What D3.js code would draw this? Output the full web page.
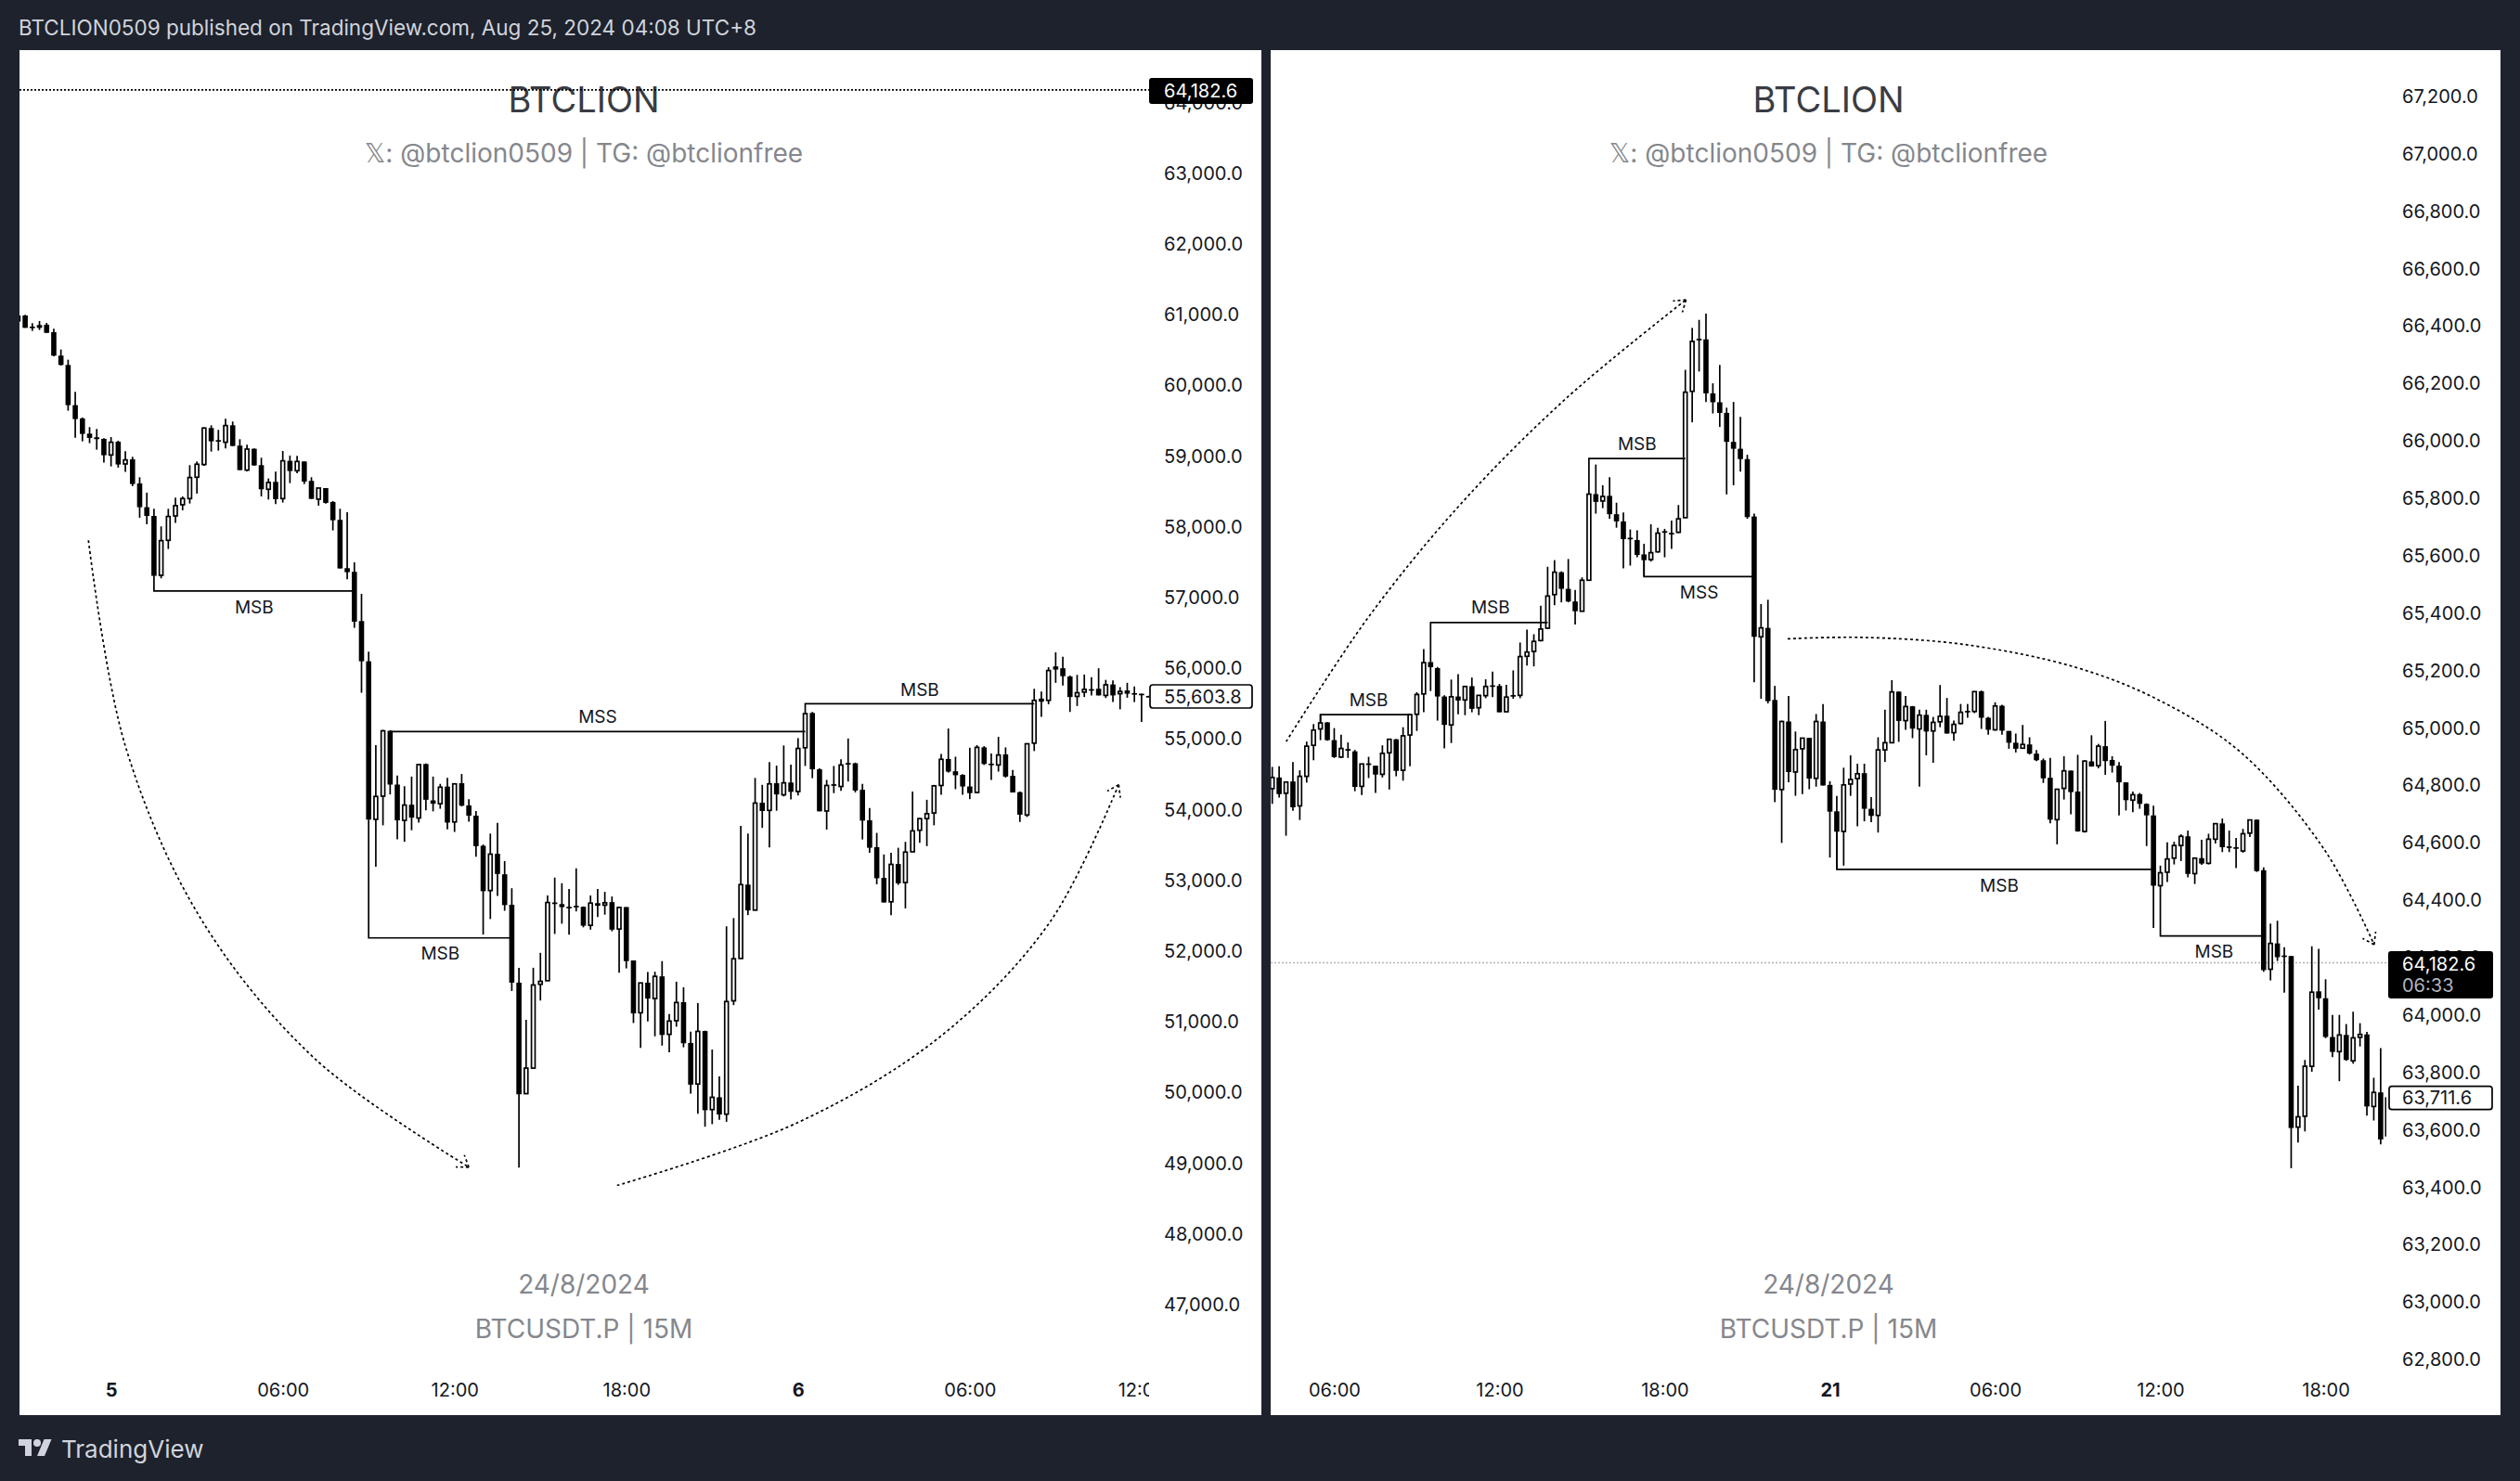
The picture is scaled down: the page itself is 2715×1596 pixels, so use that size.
<!DOCTYPE html>
<html>
<head>
<meta charset="utf-8">
<script src="https://cdn.jsdelivr.net/npm/d3@7"></script>
<style>
    html, body { margin: 0; padding: 0; background: #1e222d; }
    svg { display: block; }
    text { font-family: Inter, "DejaVu Sans", sans-serif; }
    .axis text { fill: #131722; font-size: 20px; }
    .axis .domain, .axis line { display: none; }
</style>
</head>
<body>
<div id="chart"></div>
<script>
// candles are [open, high, low, close]
var leftBars = [
    [60992,61001,60852,60905],[60992,61001,60817,60817],[60835,60883,60774,60822],[60857,60914,60787,60817],
    [60861,60887,60743,60747],[60756,60804,60415,60424],[60424,60511,60284,60292],[60292,60367,59645,59724],
    [59724,59912,59264,59527],[59536,59549,59212,59317],[59321,59413,59186,59260],[59269,59387,59094,59243],
    [59247,59256,58910,59015],[59019,59273,58857,59199],[59207,59221,58840,58884],[58892,59072,58779,58949],
    [58958,58993,58578,58608],[58617,58704,58131,58280],[58280,58486,58039,58157],[58157,58258,57309,57309],
    [57317,58009,57274,57807],[57812,58258,57689,58149],[58157,58416,58057,58302],[58315,58433,58236,58402],
    [58402,58875,58332,58700],[58704,58927,58473,58888],[58884,59409,58866,59400],[59400,59439,59067,59212],
    [59229,59374,59081,59216],[59199,59531,59111,59435],[59439,59492,59146,59146],[59151,59242,58805,58805],
    [58805,59164,58788,59102],[59107,59111,58866,58871],[58875,58980,58433,58534],[58534,58687,58389,58630],
    [58639,58783,58324,58394],[58402,59076,58346,58936],[58936,59011,58621,58792],[58796,59006,58761,58927],
    [58927,58927,58608,58643],[58652,58704,58398,58398],[58394,58551,58302,58551],[58551,58551,58332,58341],
    [58354,58367,57952,58096],[58101,58258,57414,57414],[57418,58210,57261,57361],[57366,57501,56574,56661],
    [56670,57055,55656,56101],[56101,56237,53861,53861],[53865,54915,53195,54189],[54193,55131,53781,55117],
    [55117,55126,54217,54357],[54357,54484,53584,53851],[53851,54334,53547,54067],[54072,54470,53711,53889],
    [53884,54648,53819,54639],[54648,54657,53992,54142],[54133,54470,53978,54086],[54086,54367,54015,54320],
    [54329,54451,53725,53819],[53828,54376,53687,54367],[54376,54507,54048,54058],[54062,54151,53833,53917],
    [53917,53983,53336,53486],[53491,53509,52235,52849],[52858,53664,52455,53373],[53378,53814,52783,53092],
    [53088,53275,52572,52652],[52657,52891,51438,51555],[51555,51766,48940,49976],[49985,51030,49985,50346],
    [50346,51766,50346,51522],[51532,51977,51302,51574],[51583,52788,51579,52689],[52689,53041,52244,52671],
    [52666,52961,52389,52624],[52628,52881,52235,52619],[52642,53172,52563,52633],[52628,52633,52338,52361],
    [52366,52788,52305,52680],[52680,52881,52483,52642],[52652,52839,52516,52685],[52694,52774,52282,52305],
    [52314,52624,51696,52619],[52624,52624,51757,51860],[51869,51869,50984,51120],[51129,51555,50632,51551],
    [51555,51705,51007,51330],[51330,51710,50796,51644],[51644,51860,50665,50815],[50824,51110,50571,51012],
    [51017,51569,50932,51274],[51279,51490,50641,50698],[50702,50862,49985,50112],[50121,51265,49700,50866],
    [50871,50876,49517,49751],[49760,50609,49554,49934],[49934,50229,49615,49690],[49695,52352,49587,51288],
    [51298,52469,51237,51893],[51897,53772,51897,52942],[52942,53664,52511,52577],[52581,54451,52577,54095],
    [54100,54353,53744,53983],[53992,54676,53467,54367],[54376,54625,53987,54217],[54212,54910,54189,54381],
    [54386,54639,54147,54254],[54259,55014,54203,54868],[54878,55360,54620,55360],[55370,55384,54447,54573],
    [54573,54587,53978,53978],[53983,54423,53720,54344],[54362,54620,54236,54344],[54330,54714,54269,54634],
    [54662,55009,54400,54648],[54658,54667,54245,54273],[54283,54367,53580,53847],[53852,54025,53392,53463],
    [53472,53674,52947,53032],[53036,53369,52689,52689],[52699,53392,52511,53228],[53233,53463,52938,52961],
    [52971,53547,52605,53402],[53406,54259,53406,53702],[53711,53884,53533,53875],[53875,54142,53486,53945],
    [53955,54353,53781,54339],[54344,54789,54212,54714],[54719,55150,54526,54540],[54545,54751,54292,54489],
    [54494,54503,54212,54330],[54330,54878,54151,54236],[54245,54915,54236,54883],[54883,54901,54634,54648],
    [54653,54798,54423,54643],[54634,55032,54540,54775],[54784,54883,54456,54470],[54480,54564,54245,54245],
    [54250,54259,53828,53931],[53927,54939,53898,54934],[54943,55712,54831,55548],[55548,55674,55314,55562],
    [55548,56017,55492,55970],[56002,56227,55796,56017],[56002,56166,55759,55890],[55885,55899,55384,55595],
    [55604,55909,55468,55656],[55665,55913,55595,55703],[55707,55876,55618,55698],[55712,56002,55618,55618],
    [55618,55838,55581,55768],[55773,55829,55524,55618],[55642,55735,55421,55674],[55688,55796,55585,55642],
    [55651,55745,55524,55642],[55642,55642,55243,55632],[55610,55612,55598,55604]
];

var rightBars = [
    [64789,64865,64736,64828],[64828,64867,64758,64770],[64773,64812,64625,64812],[64814,64882,64712,64724],
    [64729,64853,64680,64832],[64832,64953,64810,64937],[64940,65014,64888,64993],[64997,65048,64958,65018],
    [65020,65021,64956,64958],[64958,65000,64896,64899],[64899,64977,64896,64929],[64927,64950,64896,64921],
    [64919,64924,64780,64795],[64797,64875,64767,64875],[64877,64900,64826,64872],[64869,64869,64774,64838],
    [64839,64940,64828,64912],[64914,64961,64786,64961],[64961,64962,64832,64851],[64853,65003,64817,64973],
    [64976,65048,64867,65047],[65048,65125,64990,65117],[65119,65275,65055,65228],[65230,65230,65129,65212],
    [65209,65213,65026,65110],[65110,65114,64929,65011],[65011,65169,64948,65109],[65110,65188,65048,65096],
    [65098,65145,65045,65145],[65146,65176,65055,65067],[65071,65114,65045,65114],[65113,65170,65104,65145],
    [65149,65197,65108,65145],[65147,65154,65055,65055],[65057,65151,65055,65108],[65115,65201,65102,65112],
    [65114,65298,65104,65249],[65250,65343,65218,65265],[65267,65327,65215,65302],[65305,65426,65302,65345],
    [65348,65562,65345,65460],[65465,65585,65428,65543],[65543,65546,65438,65485],[65485,65589,65438,65441],
    [65441,65481,65361,65407],[65407,65525,65407,65515],[65515,65815,65515,65815],[65815,65918,65747,65788],
    [65791,65846,65766,65807],[65809,65874,65729,65745],[65745,65785,65698,65720],[65720,65751,65556,65658],
    [65663,65692,65566,65658],[65655,65689,65595,65603],[65605,65642,65528,65585],[65587,65710,65580,65611],
    [65614,65698,65611,65679],[65686,65694,65595,65682],[65680,65723,65624,65676],[65682,65777,65679,65729],
    [65733,66248,65733,66170],[66173,66394,66065,66347],[66356,66422,66242,66351],[66354,66444,66136,66166],
    [66166,66201,66096,66135],[66135,66265,66049,66098],[66098,66116,65814,65997],[65997,66136,65846,65973],
    [65973,66084,65893,65937],[65937,65952,65729,65735],[65737,65747,65160,65318],[65318,65432,65102,65349],
    [65349,65447,65086,65094],[65098,65147,64742,64785],[64786,65026,64600,65023],[65023,65112,64811,64847],
    [64847,64988,64764,64925],[64928,64965,64770,64965],[64966,64966,64787,64824],[64825,65049,64796,65023],
    [65023,65084,64800,64800],[64802,64815,64549,64709],[64710,64764,64511,64639],[64640,64862,64521,64802],
    [64805,64905,64764,64821],[64824,64876,64658,64841],[64843,64876,64675,64719],[64719,64760,64672,64694],
    [64696,64968,64636,64924],[64924,65064,64882,64949],[64949,65167,64949,65126],[65127,65128,64952,65025],
    [65026,65112,64994,65075],[65076,65077,64965,64998],[64997,65064,64796,65045],[65046,65064,64905,64988],
    [64990,65039,64879,65020],[65022,65150,65003,65041],[65043,65105,64981,64981],[64984,65026,64956,65013],
    [65016,65084,65013,65055],[65060,65084,65036,65058],[65058,65127,65052,65127],[65128,65131,64997,65036],
    [65036,65039,64977,64994],[64994,65090,64991,65077],[65078,65081,64977,64991],[64990,64990,64928,64949],
    [64949,64981,64915,64928],[64930,65011,64928,64943],[64943,64968,64908,64911],[64911,64924,64885,64888],
    [64888,64894,64809,64825],[64827,64896,64668,64681],[64681,64787,64595,64787],[64790,64902,64751,64851],
    [64852,64852,64700,64777],[64779,64907,64639,64640],[64640,64888,64636,64885],[64884,64975,64866,64866],
    [64869,64945,64860,64937],[64937,65025,64837,64885],[64889,64902,64845,64869],[64869,64882,64696,64811],
    [64811,64811,64713,64749],[64749,64779,64707,64768],[64770,64774,64719,64736],[64736,64738,64589,64696],
    [64696,64730,64304,64451],[64451,64521,64451,64496],[64498,64602,64464,64544],[64547,64604,64525,64591],
    [64591,64630,64537,64623],[64623,64643,64480,64492],[64493,64547,64457,64547],[64547,64611,64524,64528],
    [64529,64632,64525,64613],[64613,64667,64598,64667],[64668,64685,64568,64585],[64588,64643,64568,64585],
    [64585,64617,64512,64581],[64572,64649,64566,64632],[64634,64680,64621,64680],[64681,64681,64499,64502],
    [64505,64515,64151,64157],[64160,64319,64121,64250],[64250,64329,64189,64202],[64208,64237,64078,64204],
    [64206,64206,63467,63607],[63610,63754,63556,63646],[63648,63844,63595,63822],[63822,64240,63803,64080],
    [64083,64231,64019,64059],[64059,64125,63920,63924],[63924,64001,63854,63872],[63873,64001,63770,63931],
    [63931,63969,63841,63844],[63841,64012,63831,63921],[63923,63972,63891,63933],[63933,63942,63650,63682],
    [63682,63782,63633,63731],[63731,63885,63550,63567],[63580,63712,63562,63711.6]
];

var leftPriceTicks = [64000,63000,62000,61000,60000,59000,58000,57000,56000,55000,54000,53000,52000,51000,50000,49000,48000,47000];
var rightPriceTicks = [67200,67000,66800,66600,66400,66200,66000,65800,65600,65400,65200,65000,64800,64600,64400,64200,64000,63800,63600,63400,63200,63000,62800];

var leftTimeBars = [13, 37, 61, 85, 109, 133, 157];
var leftTimeLabels = ['5', '06:00', '12:00', '18:00', '6', '06:00', '12:00'];
var rightTimeBars = [9, 33, 57, 81, 105, 129, 153];
var rightTimeLabels = ['06:00', '12:00', '18:00', '21', '06:00', '12:00', '18:00'];
var boldTimeLabels = ['5', '6', '21'];

// structure lines: [start bar, start price, corner price, end bar, label, label bar, label price]
var leftBreaks = [
    [19, 57309, 57096, 47, 'MSB', 33, 56867],
    [49, 53861, 52188, 69, 'MSB', 59, 51968],
    [52, 55107, 55107, 110, 'MSS', 81, 55313],
    [110, 55360, 55501, 142, 'MSB', 126, 55698]
];
var rightBreaks = [
    [7, 65018, 65047, 20, 'MSB', 14, 65098],
    [23, 65230, 65368, 40, 'MSB', 31.7, 65422],
    [46, 65815, 65939, 60, 'MSB', 53, 65991],
    [54, 65585, 65528, 70, 'MSS', 62, 65475],
    [82, 64639, 64508, 128, 'MSB', 105.6, 64451],
    [129, 64451, 64276, 144, 'MSB', 136.8, 64221]
];

// curved arrows: [bar, price] anchors
var leftArrows = [
    [[9.84,57812],[14.98,54909],[25.54,52461],[41.54,50474],[63,48945]],
    [[83.7,48686],[109,49578],[129.1,50811],[144.2,52412],[153.8,54354]]
];
var rightArrows = [
    [[2.02,64953],[13.93,65385],[27.54,65785],[42.9,66153],[60.1,66492]],
    [[74.87,65311],[85.53,65316],[100.6,65291],[116.8,65211],[128.9,65096],[140.9,64911],[152.95,64572],[160.05,64246]]
];

var otherSymbolPrice = 64182.6;
var leftLastPrice = 55603.8;
var rightLastPrice = 63711.6;
var countdown = '06:33';

var titleText = 'BTCLION';
var subtitleText = '\u{1D54F}: @btclion0509 | TG: @btclionfree';
var dateText = '24/8/2024';
var symbolText = 'BTCUSDT.P | 15M';
var headerText = 'BTCLION0509 published on TradingView.com, Aug 25, 2024 04:08 UTC+8';

var svgWidth = 2715;
var svgHeight = 1596;
var priceFormat = d3.format(',.1f');

var svg = d3.select('#chart')
    .append('svg')
    .attr('width', svgWidth)
    .attr('height', svgHeight);

svg.append('rect')
    .attr('width', svgWidth)
    .attr('height', svgHeight)
    .attr('fill', '#1e222d');

svg.append('text')
    .attr('x', 20)
    .attr('y', 38)
    .attr('fill', '#d1d4dc')
    .attr('font-size', 22.5)
    .text(headerText);

// footer logo and wordmark
var logo = svg.append('g')
    .attr('transform', 'translate(20, 1547)')
    .attr('fill', '#d1d4dc');
logo.append('path').attr('d', 'M14 22H7V11H0V4h14v18zM28 22h-8l7.5-18h8L28 22z');
logo.append('circle').attr('cx', 20).attr('cy', 8).attr('r', 4);

svg.append('text')
    .attr('x', 66)
    .attr('y', 1571)
    .attr('fill', '#d1d4dc')
    .attr('font-size', 26)
    .text('TradingView');

function drawPane(p) {
    var pane = svg.append('g');

    pane.append('rect')
        .attr('x', p.left)
        .attr('y', 54)
        .attr('width', p.right - p.left)
        .attr('height', 1471)
        .attr('fill', '#fff');

    var clipId = 'clip' + p.left;
    svg.append('clipPath')
        .attr('id', clipId)
        .append('rect')
        .attr('x', p.left)
        .attr('y', 54)
        .attr('width', p.plotRight - p.left)
        .attr('height', 1471);

    var xScale = d3.scaleLinear()
        .domain(p.xDomain)
        .range(p.xRange);

    var yScale = d3.scaleLinear()
        .domain(p.yDomain)
        .range(p.yRange);

    // watermark
    var watermark = pane.append('g')
        .attr('text-anchor', 'middle')
        .attr('fill', '#85878d');
    watermark.append('text')
        .attr('x', p.center).attr('y', 121)
        .attr('fill', '#3a3c43')
        .attr('font-size', 38)
        .text(titleText);
    watermark.append('text')
        .attr('x', p.center).attr('y', 175)
        .attr('font-size', 28)
        .text(subtitleText);
    watermark.append('text')
        .attr('x', p.center).attr('y', 1394)
        .attr('font-size', 28)
        .text(dateText);
    watermark.append('text')
        .attr('x', p.center).attr('y', 1442)
        .attr('font-size', 28)
        .text(symbolText);

    var plot = pane.append('g')
        .attr('clip-path', `url(#${clipId})`);

    // dotted line of the other chart's price
    plot.append('line')
        .attr('x1', p.left)
        .attr('x2', p.plotRight)
        .attr('y1', yScale(otherSymbolPrice))
        .attr('y2', yScale(otherSymbolPrice))
        .attr('stroke', p.lineColor)
        .attr('stroke-width', 1.7)
        .attr('stroke-dasharray', '2 2');

    // candles
    var candle = plot.selectAll('g.candle')
        .data(p.bars)
        .enter()
        .append('g')
        .attr('class', 'candle');

    candle.append('line')
        .attr('x1', (d, i) => xScale(i))
        .attr('x2', (d, i) => xScale(i))
        .attr('y1', d => yScale(d[1]))
        .attr('y2', d => yScale(d[2]))
        .attr('stroke', '#000')
        .attr('stroke-width', 1.7);

    var bodyWidth = 5.6;
    var borderWidth = 1.7;
    candle.append('rect')
        .attr('x', (d, i) => xScale(i) - bodyWidth / 2 + (d[3] >= d[0] ? borderWidth / 2 : 0))
        .attr('y', d => yScale(Math.max(d[0], d[3])))
        .attr('width', d => d[3] >= d[0] ? bodyWidth - borderWidth : bodyWidth)
        .attr('height', d => Math.max(Math.abs(yScale(d[0]) - yScale(d[3])), 1.7))
        .attr('fill', d => d[3] >= d[0] ? '#fff' : '#000')
        .attr('stroke', d => d[3] >= d[0] ? '#000' : 'none')
        .attr('stroke-width', borderWidth);

    // MSB / MSS brackets
    var bracket = plot.selectAll('g.bracket')
        .data(p.breaks)
        .enter()
        .append('g')
        .attr('class', 'bracket');

    bracket.append('path')
        .attr('d', d => {
            var path = d3.path();
            path.moveTo(xScale(d[0]), yScale(d[1]));
            path.lineTo(xScale(d[0]), yScale(d[2]));
            path.lineTo(xScale(d[3]), yScale(d[2]));
            return path.toString();
        })
        .attr('fill', 'none')
        .attr('stroke', '#000')
        .attr('stroke-width', 1.7);

    bracket.append('text')
        .attr('x', d => xScale(d[5]))
        .attr('y', d => yScale(d[6]))
        .attr('dy', '0.36em')
        .attr('text-anchor', 'middle')
        .attr('font-size', 19)
        .attr('fill', '#131722')
        .text(d => d[4]);

    // curved dotted arrows
    var curve = d3.line()
        .x(d => xScale(d[0]))
        .y(d => yScale(d[1]))
        .curve(d3.curveCatmullRom.alpha(0.5));

    var arrow = plot.selectAll('g.arrow')
        .data(p.arrows)
        .enter()
        .append('g')
        .attr('class', 'arrow')
        .attr('fill', 'none')
        .attr('stroke', '#000')
        .attr('stroke-width', 1.7)
        .attr('stroke-dasharray', '3 3');

    arrow.append('path').attr('d', curve);

    arrow.append('path')
        .attr('d', d => {
            var tip = d[d.length - 1];
            var prev = d[d.length - 2];
            var tipX = xScale(tip[0]);
            var tipY = yScale(tip[1]);
            var angle = Math.atan2(tipY - yScale(prev[1]), tipX - xScale(prev[0]));
            var path = d3.path();
            [-0.6, 0.6].forEach(turn => {
                path.moveTo(tipX, tipY);
                path.lineTo(tipX - 14 * Math.cos(angle + turn), tipY - 14 * Math.sin(angle + turn));
            });
            return path.toString();
        });

    // price axis
    var priceAxis = d3.axisRight(yScale)
        .tickValues(p.priceTicks)
        .tickFormat(priceFormat)
        .tickSize(0)
        .tickPadding(0);

    pane.append('g')
        .attr('class', 'axis')
        .attr('transform', `translate(${p.axisX}, 0)`)
        .call(priceAxis);

    // time axis
    var timeAxis = d3.axisBottom(xScale)
        .tickValues(p.timeBars)
        .tickFormat((d, i) => p.timeLabels[i])
        .tickSize(0)
        .tickPadding(0);

    pane.append('g')
        .attr('clip-path', `url(#${clipId})`)
        .append('g')
        .attr('class', 'axis')
        .attr('transform', 'translate(0, 1491)')
        .call(timeAxis)
        .selectAll('text')
        .attr('font-weight', d => null)
        .style('font-weight', function() {
            return boldTimeLabels.indexOf(this.textContent) >= 0 ? 700 : 400;
        });

    // price tags
    pane.append('rect')
        .attr('x', p.tagLeft)
        .attr('y', p.otherTagTop)
        .attr('width', p.tagWidth)
        .attr('height', p.otherTagHeight)
        .attr('rx', 3)
        .attr('fill', '#000');

    pane.append('text')
        .attr('x', p.axisX)
        .attr('y', p.otherTagTop + 14)
        .attr('dy', '0.36em')
        .attr('fill', '#fff')
        .attr('font-size', 20)
        .text(priceFormat(otherSymbolPrice));

    if (p.showCountdown) {
        pane.append('text')
            .attr('x', p.axisX)
            .attr('y', p.otherTagTop + 37)
            .attr('dy', '0.36em')
            .attr('fill', '#b2b5be')
            .attr('font-size', 20)
            .text(countdown);
    }

    pane.append('rect')
        .attr('x', p.tagLeft + 1)
        .attr('y', yScale(p.lastPrice) - 12.5)
        .attr('width', p.tagWidth - 2)
        .attr('height', 25)
        .attr('rx', 3)
        .attr('fill', '#fff')
        .attr('stroke', '#000')
        .attr('stroke-width', 1.7);

    pane.append('text')
        .attr('x', p.axisX)
        .attr('y', yScale(p.lastPrice))
        .attr('dy', '0.36em')
        .attr('fill', '#131722')
        .attr('font-size', 20)
        .text(priceFormat(p.lastPrice));
}

drawPane({
    left: 21,
    right: 1359,
    plotRight: 1238,
    center: 629,
    bars: leftBars,
    breaks: leftBreaks,
    arrows: leftArrows,
    xDomain: [0, 158],
    xRange: [19.4, 1237.6],
    yDomain: [47000, 63000],
    yRange: [1406, 187],
    priceTicks: leftPriceTicks,
    timeBars: leftTimeBars,
    timeLabels: leftTimeLabels,
    axisX: 1254,
    tagLeft: 1238,
    tagWidth: 112,
    otherTagTop: 84,
    otherTagHeight: 28,
    lineColor: '#000',
    lastPrice: leftLastPrice,
    showCountdown: false
});

drawPane({
    left: 1369,
    right: 2694,
    plotRight: 2571,
    center: 1970,
    bars: rightBars,
    breaks: rightBreaks,
    arrows: rightArrows,
    xDomain: [0, 162],
    xRange: [1370.7, 2572.3],
    yDomain: [64000, 67200],
    yRange: [1094, 104],
    priceTicks: rightPriceTicks,
    timeBars: rightTimeBars,
    timeLabels: rightTimeLabels,
    axisX: 2588,
    tagLeft: 2573,
    tagWidth: 113,
    otherTagTop: 1025,
    otherTagHeight: 51,
    lineColor: '#b0b3ba',
    lastPrice: rightLastPrice,
    showCountdown: true
});
</script>
</body>
</html>
